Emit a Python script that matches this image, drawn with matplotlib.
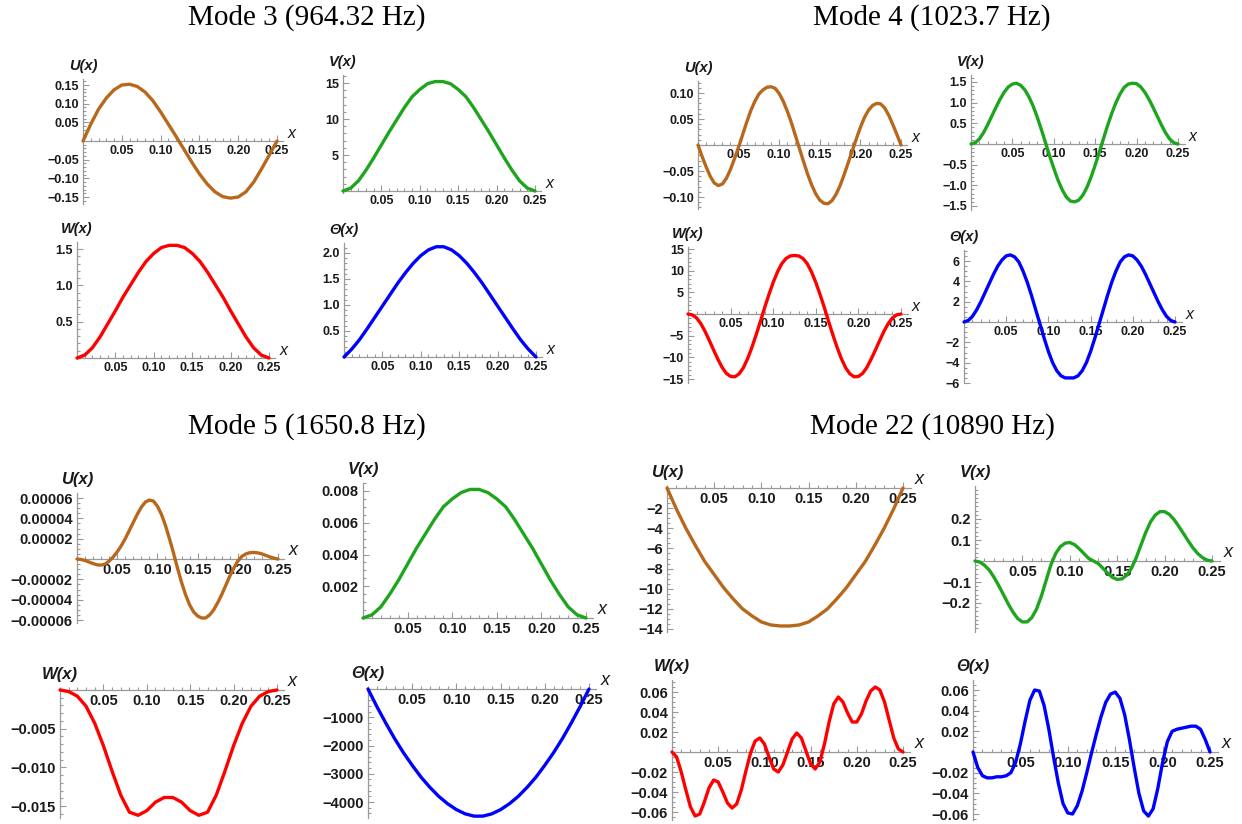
import numpy as np
import matplotlib.pyplot as plt
from matplotlib.ticker import MultipleLocator

plt.rcParams['font.family'] = ['Liberation Sans', 'DejaVu Sans']

W_PX, H_PX = 1242, 824

# sample positions along the beam
x_coarse = np.linspace(0, 0.25, 26)   # every 0.01
x_fine = np.linspace(0, 0.25, 51)     # every 0.005

# Mode 3 (964.32 Hz), sampled every 0.01
m3_u = [0, 0.045, 0.085, 0.115, 0.137, 0.150, 0.152, 0.146, 0.131, 0.108, 0.078, 0.045, 0.012,
        -0.022, -0.056, -0.088, -0.115, -0.136, -0.149, -0.153, -0.150, -0.136, -0.110, -0.075, -0.038, 0]
m3_v = [0, 0.4, 1.4, 2.9, 4.6, 6.4, 8.2, 9.9, 11.6, 13.1, 14.1, 14.9, 15.2,
        15.2, 14.9, 14.1, 13.1, 11.6, 9.9, 8.2, 6.4, 4.6, 2.9, 1.4, 0.4, 0]
m3_w = [0, 0.04, 0.14, 0.29, 0.47, 0.65, 0.84, 1.01, 1.18, 1.33, 1.44, 1.52, 1.55,
        1.55, 1.52, 1.44, 1.33, 1.18, 1.01, 0.84, 0.65, 0.47, 0.29, 0.14, 0.04, 0]
m3_t = [0, 0.15, 0.33, 0.54, 0.76, 0.98, 1.20, 1.42, 1.62, 1.80, 1.95, 2.06, 2.12,
        2.12, 2.06, 1.95, 1.80, 1.62, 1.42, 1.20, 0.98, 0.76, 0.54, 0.33, 0.15, 0]

# Mode 4 (1023.7 Hz), sampled every 0.005
m4_u = [0, -0.022, -0.042, -0.060, -0.073, -0.078, -0.075, -0.064, -0.047, -0.026, -0.004,
        0.020, 0.044, 0.066, 0.084, 0.098, 0.106, 0.111, 0.112, 0.109, 0.099,
        0.084, 0.065, 0.043, 0.018, -0.007, -0.032, -0.056, -0.077, -0.094, -0.106,
        -0.112, -0.113, -0.107, -0.095, -0.078, -0.057, -0.034, -0.011, 0.012, 0.034,
        0.053, 0.067, 0.076, 0.080, 0.079, 0.071, 0.057, 0.039, 0.020, 0]
m4_v = [0, 0.03, 0.12, 0.27, 0.46, 0.67, 0.88, 1.08, 1.25, 1.38, 1.45,
        1.47, 1.42, 1.31, 1.14, 0.92, 0.65, 0.35, 0.03, -0.29, -0.59,
        -0.87, -1.10, -1.28, -1.38, -1.40, -1.36, -1.24, -1.05, -0.80, -0.51,
        -0.19, 0.13, 0.45, 0.74, 1.00, 1.21, 1.37, 1.45, 1.47, 1.46,
        1.38, 1.25, 1.08, 0.88, 0.67, 0.46, 0.27, 0.12, 0.03, 0]
m4_w = [0, -0.2, -0.9, -2.2, -4.0, -6.1, -8.3, -10.4, -12.3, -13.7, -14.4,
        -14.5, -13.8, -12.4, -10.3, -7.7, -4.8, -1.7, 1.5, 4.5, 7.3,
        9.7, 11.6, 12.8, 13.4, 13.5, 13.4, 12.8, 11.6, 9.7, 7.3,
        4.5, 1.5, -1.7, -4.8, -7.7, -10.3, -12.4, -13.8, -14.5, -14.4,
        -13.7, -12.3, -10.4, -8.3, -6.1, -4.0, -2.2, -0.9, -0.2, 0]
m4_t = [0, 0.15, 0.55, 1.2, 2.0, 2.9, 3.8, 4.7, 5.5, 6.1, 6.5,
        6.6, 6.4, 5.9, 5.0, 3.9, 2.6, 1.2, -0.2, -1.6, -2.9,
        -4.0, -4.8, -5.3, -5.5, -5.5, -5.5, -5.3, -4.8, -4.0, -2.9,
        -1.6, -0.2, 1.2, 2.6, 3.9, 5.0, 5.9, 6.4, 6.6, 6.5,
        6.1, 5.5, 4.7, 3.8, 2.9, 2.0, 1.2, 0.55, 0.15, 0]

# Mode 5 (1650.8 Hz); U sampled every 0.005 (in units of 1e-5), the rest every 0.01
m5_u = [0, -0.05, -0.15, -0.3, -0.45, -0.57, -0.6, -0.5, -0.2, 0.2, 0.7,
        1.3, 2.0, 2.8, 3.6, 4.4, 5.1, 5.6, 5.8, 5.7, 5.2,
        4.4, 3.3, 2.0, 0.6, -0.9, -2.3, -3.5, -4.5, -5.2, -5.6,
        -5.8, -5.8, -5.5, -5.0, -4.3, -3.5, -2.6, -1.7, -0.9, -0.2,
        0.25, 0.5, 0.62, 0.65, 0.6, 0.5, 0.35, 0.2, 0.08, 0]
m5_v = [0, 0.0002, 0.0007, 0.0015, 0.0024, 0.0034, 0.0044, 0.0053, 0.0062, 0.0070, 0.0075, 0.0079, 0.0081,
        0.0081, 0.0079, 0.0075, 0.0070, 0.0062, 0.0053, 0.0044, 0.0034, 0.0024, 0.0015, 0.0007, 0.0002, 0]
m5_w = [0, -0.0002, -0.0008, -0.0021, -0.0043, -0.0072, -0.0105, -0.0136, -0.0158, -0.0162, -0.0156, -0.0145, -0.0139,
        -0.0139, -0.0145, -0.0156, -0.0162, -0.0158, -0.0136, -0.0105, -0.0072, -0.0043, -0.0021, -0.0008, -0.0002, 0]
m5_t = [0, -620, -1200, -1750, -2250, -2700, -3120, -3480, -3800, -4060, -4270, -4420, -4500,
        -4500, -4420, -4270, -4060, -3800, -3480, -3120, -2700, -2250, -1750, -1200, -620, 0]

# Mode 22 (10890 Hz); U every 0.01, the rest every 0.005
m22_u = [0, -2.1, -4.0, -5.7, -7.3, -8.6, -9.9, -11.0, -12.0, -12.7, -13.3, -13.6, -13.7,
         -13.7, -13.6, -13.3, -12.7, -12.0, -11.0, -9.9, -8.6, -7.3, -5.7, -4.0, -2.1, 0]
m22_v = [0, -0.005, -0.020, -0.043, -0.077, -0.117, -0.160, -0.204, -0.243, -0.274, -0.290,
         -0.290, -0.269, -0.228, -0.167, -0.093, -0.019, 0.035, 0.068, 0.085, 0.088,
         0.078, 0.058, 0.035, 0.012, 0.0, -0.012, -0.035, -0.058, -0.078, -0.088,
         -0.085, -0.068, -0.035, 0.015, 0.075, 0.135, 0.185, 0.218, 0.235, 0.235,
         0.222, 0.197, 0.165, 0.130, 0.095, 0.062, 0.035, 0.016, 0.004, 0]
m22_w = [0, -0.005, -0.020, -0.038, -0.055, -0.064, -0.062, -0.050, -0.036, -0.028, -0.030,
         -0.040, -0.051, -0.056, -0.052, -0.038, -0.019, -0.001, 0.011, 0.014, 0.008,
         -0.005, -0.017, -0.020, -0.013, 0.000, 0.013, 0.019, 0.014, 0.001, -0.012,
         -0.017, -0.010, 0.008, 0.030, 0.048, 0.055, 0.050, 0.039, 0.030, 0.030,
         0.038, 0.051, 0.061, 0.065, 0.062, 0.050, 0.032, 0.014, 0.003, 0]
m22_t = [0, -0.015, -0.023, -0.025, -0.025, -0.024, -0.024, -0.023, -0.020, -0.010, 0.008,
         0.030, 0.050, 0.060, 0.059, 0.045, 0.022, -0.005, -0.030, -0.050, -0.059,
         -0.060, -0.052, -0.038, -0.020, -0.001, 0.017, 0.034, 0.048, 0.056, 0.058,
         0.052, 0.036, 0.012, -0.015, -0.040, -0.057, -0.062, -0.055, -0.035, -0.010,
         0.010, 0.020, 0.022, 0.023, 0.024, 0.025, 0.025, 0.022, 0.012, 0]

titles = ['Mode 3 (964.32 Hz)', 'Mode 4 (1023.7 Hz)', 'Mode 5 (1650.8 Hz)', 'Mode 22 (10890 Hz)']
title_pos = [(307, 18), (932, 18), (307, 427), (932, 427)]

x_ticks = [0.05, 0.10, 0.15, 0.20, 0.25]

BROWN, GREEN, RED, BLUE = '#b8681c', '#1ea51e', '#ff0000', '#0000ff'
AXIS_COL = '#999999'
TEXT_COL = '#1a1a1a'

# placement in pixels: x of x=0, x of x=0.25, y of y=0, (value, y) reference, top, bottom
panels = [
    ('U', x_coarse, m3_u, 1, BROWN, (83, 277, 141, 0.15, 85, 79, 204),
     [-0.15, -0.10, -0.05, 0.05, 0.10, 0.15], 2, 0.01, 9),
    ('V', x_coarse, m3_v, 1, GREEN, (343, 535, 191, 15, 83, 75, 193),
     [5, 10, 15], 0, 1, 9),
    ('W', x_coarse, m3_w, 1, RED, (77, 269, 358, 1.5, 249, 242, 359),
     [0.5, 1.0, 1.5], 1, 0.1, 9),
    ('Θ', x_coarse, m3_t, 1, BLUE, (344, 536, 357, 2.0, 253, 243, 358),
     [0.5, 1.0, 1.5, 2.0], 1, 0.1, 9),
    ('U', x_fine, m4_u, 1, BROWN, (698, 901, 145, 0.10, 93, 81, 209),
     [-0.10, -0.05, 0.05, 0.10], 2, 0.01, 9),
    ('V', x_fine, m4_v, 1, GREEN, (971, 1178, 144, 1.5, 82, 75, 210),
     [-1.5, -1.0, -0.5, 0.5, 1.0, 1.5], 1, 0.1, 9),
    ('W', x_fine, m4_w, 1, RED, (688, 901, 314, 15, 249, 247, 383),
     [-15, -10, -5, 5, 10, 15], 0, 1, 9),
    ('Θ', x_fine, m4_t, 1, BLUE, (964, 1175, 322, 6, 261, 250, 383),
     [-6, -4, -2, 2, 4, 6], 0, 0.5, 9),
    ('U', x_fine, m5_u, 1e-5, BROWN, (77, 278, 559, 6e-5, 498, 493, 623),
     [-6e-5, -4e-5, -2e-5, 2e-5, 4e-5, 6e-5], 5, 5e-6, 10.5),
    ('V', x_coarse, m5_v, 1, GREEN, (363, 586, 618, 0.008, 491, 483, 619),
     [0.002, 0.004, 0.006, 0.008], 3, 0.0005, 10.5),
    ('W', x_coarse, m5_w, 1, RED, (60, 277, 690, -0.015, 806, 688, 818),
     [-0.015, -0.010, -0.005], 3, 0.001, 10.5),
    ('Θ', x_coarse, m5_t, 1, BLUE, (368, 589, 689, -4000, 802, 687, 818),
     [-4000, -3000, -2000, -1000], 0, 200, 10.5),
    ('U', x_coarse, m22_u, 1, BROWN, (667, 903, 488, -14, 629, 486, 632),
     [-14, -12, -10, -8, -6, -4, -2], 0, 0.5, 10.5),
    ('V', x_fine, m22_v, 1, GREEN, (975, 1212, 561, 0.2, 519, 486, 632),
     [-0.2, -0.1, 0.1, 0.2], 1, 0.02, 10.5),
    ('W', x_fine, m22_w, 1, RED, (672, 903, 752, 0.06, 692, 680, 820),
     [-0.06, -0.04, -0.02, 0.02, 0.04, 0.06], 2, 0.005, 10.5),
    ('Θ', x_fine, m22_t, 1, BLUE, (973, 1210, 752, 0.06, 690, 680, 820),
     [-0.06, -0.04, -0.02, 0.02, 0.04, 0.06], 2, 0.005, 10.5),
]


def fmt(v, dec):
    s = f'{abs(v):.{dec}f}'
    return ('\u2212' + s) if v < 0 else s


fig = plt.figure(figsize=(W_PX / 100, H_PX / 100), dpi=100)

for name, xs, ys, unit, color, box, yticks, dec, yminor, fs in panels:
    x0, x25, y0, yv, ypx, ytop, ybot = box
    sx = (x25 - x0) / 0.25
    sy = (y0 - ypx) / yv
    xmax = 0.258
    right = x0 + xmax * sx
    ax = fig.add_axes([x0 / W_PX, 1 - ybot / H_PX, (right - x0) / W_PX, (ybot - ytop) / H_PX])
    ax.patch.set_alpha(0)
    ax.set_xlim(0, xmax)
    ax.set_ylim((y0 - ybot) / sy, (y0 - ytop) / sy)
    ax.plot(xs, np.asarray(ys) * unit, color=color, lw=2.4, clip_on=False, zorder=3,
            solid_joinstyle='round', solid_capstyle='round')

    for s in ['top', 'right']:
        ax.spines[s].set_visible(False)
    ax.spines['bottom'].set_position(('data', 0))
    for s in ['left', 'bottom']:
        ax.spines[s].set_color(AXIS_COL)
        ax.spines[s].set_linewidth(0.9)

    ax.set_xticks(x_ticks)
    ax.set_xticklabels([f'{t:.2f}' for t in x_ticks], fontsize=fs, fontweight='bold', color=TEXT_COL)
    ax.xaxis.set_minor_locator(MultipleLocator(0.01))
    ax.set_yticks(yticks)
    ax.set_yticklabels([fmt(t, dec) for t in yticks], fontsize=fs, fontweight='bold', color=TEXT_COL)
    ax.yaxis.set_minor_locator(MultipleLocator(yminor))
    ax.tick_params(which='both', direction='in', color=AXIS_COL, width=0.8)
    ax.tick_params(which='major', length=4, pad=3)
    ax.tick_params(which='minor', length=2)

    ax.annotate('x', xy=(1.0, 0), xycoords=('axes fraction', 'data'), xytext=(3, 0),
                textcoords='offset points', fontsize=fs + 2.5, style='italic',
                color=TEXT_COL, va='bottom', ha='left')
    ax.annotate(f'{name}(x)', xy=(0, 1), xycoords='axes fraction', xytext=(0, 4),
                textcoords='offset points', fontsize=fs + 1.5, fontweight='bold', style='italic',
                color=TEXT_COL, ha='center', va='bottom')

for t, (tx, ty) in zip(titles, title_pos):
    fig.text(tx / W_PX, 1 - ty / H_PX, t, ha='center', va='center',
             fontsize=21, family='Liberation Serif', color='black')

fig.savefig('out.png', dpi=100)
